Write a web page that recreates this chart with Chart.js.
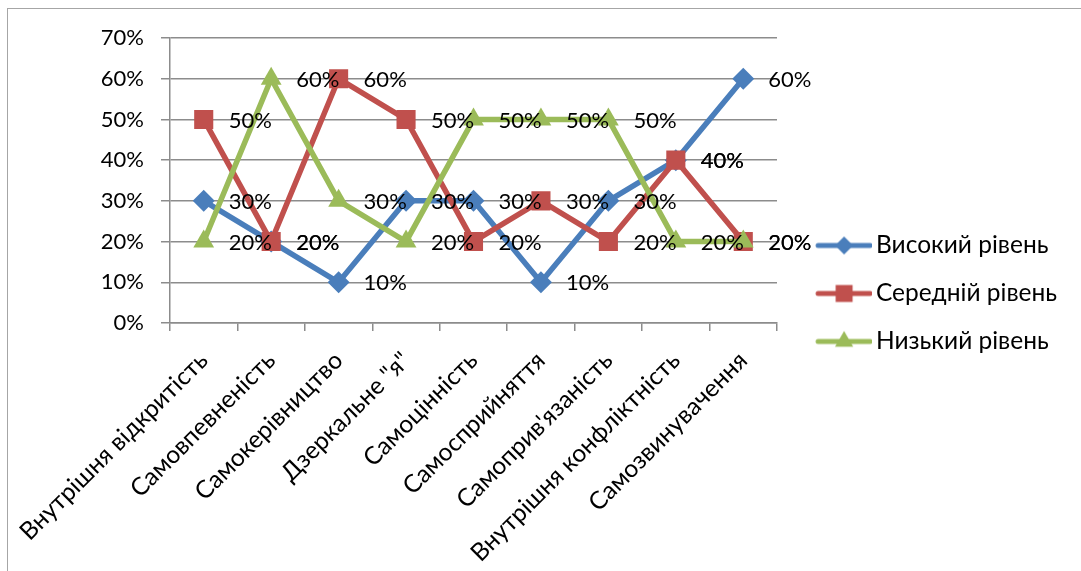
<!DOCTYPE html>
<html>
<head>
<meta charset="utf-8">
<script src="https://cdn.jsdelivr.net/npm/chart.js@4.4.1/dist/chart.umd.min.js"></script>
<style>
  html, body { margin: 0; padding: 0; background: #fff; overflow: hidden; }
  #frame {
    position: absolute; left: 7px; top: 8px; width: 1200px; height: 700px;
    border: 1.5px solid #a6a6a6; box-sizing: border-box;
  }
  #wrap { position: absolute; left: 0; top: 0; width: 1081px; height: 571px; }
</style>
</head>
<body>
<div id="frame"></div>
<div id="wrap"><canvas id="chart"></canvas></div>
<script>
// ── Data ──────────────────────────────────────────────────────
const categories = [
  'Внутрішня відкритість', 'Самовпевненість', 'Самокерівництво',
  'Дзеркальне "я"', 'Самоцінність', 'Самосприйняття',
  'Самоприв\'язаність', 'Внутрішня конфліктність', 'Самозвинувачення'
];
const seriesNames = ['Високий рівень', 'Середній рівень', 'Низький рівень'];
const highLevel   = [30, 20, 10, 30, 30, 10, 30, 40, 60];
const midLevel    = [50, 20, 60, 50, 20, 30, 20, 40, 20];
const lowLevel    = [20, 60, 30, 20, 50, 50, 50, 20, 20];
const yTicks      = [0, 10, 20, 30, 40, 50, 60, 70];

// ── Style ─────────────────────────────────────────────────────
const FONT  = "Lato, 'Open Sans', sans-serif";
const FS    = 22;      // numbers
const FS_TX = 24.5;    // words (legend, categories)
const BLUE  = '#4a7ebb';
const RED   = '#c0504d';
const GREEN = '#9bbb59';
const GRID  = '#8c8c8c';

// Legend entry: a short line with the marker in its middle
function legendMarker(color, style, radius) {
  const c = document.createElement('canvas');
  c.width = 80; c.height = 26;
  const ctx = c.getContext('2d');
  ctx.strokeStyle = color;
  ctx.lineWidth   = 5;
  ctx.lineCap     = 'round';
  ctx.beginPath();
  ctx.moveTo(26, 13);
  ctx.lineTo(78, 13);
  ctx.stroke();
  ctx.fillStyle = color;
  Chart.helpers.drawPoint(ctx, { pointStyle: style, radius: radius, borderWidth: 0, rotation: 0 }, 52, 13);
  return c;
}
const markers = [
  legendMarker(BLUE,  'rectRot',  9),
  legendMarker(RED,   'rect',     12),
  legendMarker(GREEN, 'triangle', 10.5)
];

// Value labels to the right of each point
const valueLabels = {
  id: 'valueLabels',
  afterDatasetsDraw(chart) {
    const ctx = chart.ctx;
    ctx.save();
    ctx.font = `${FS}px ${FONT}`;
    ctx.fillStyle = '#000';
    ctx.textAlign = 'left';
    ctx.textBaseline = 'middle';
    chart.data.datasets.forEach((ds, i) => {
      const meta = chart.getDatasetMeta(i);
      meta.data.forEach((pt, j) => {
        ctx.fillText(ds.data[j] + '%', pt.x + 25, pt.y + 1);
      });
    });
    ctx.restore();
  }
};

// The legend box is capped at a quarter of the canvas width and clipped to it;
// widen it to the canvas edge and pull its bottom up so it centres like the original
const legendBox = {
  id: 'legendBox',
  afterLayout(chart) {
    const lg = chart.legend;
    if (!lg) return;
    lg.right  = chart.width;
    lg.width  = lg.right - lg.left;
    lg.bottom = lg.bottom - 22;
    lg.height = lg.bottom - lg.top;
  }
};

const lineDefaults = {
  borderWidth: 5.5,
  tension: 0,
  fill: false,
  borderJoinStyle: 'round',
  borderCapStyle: 'round',
  pointBorderWidth: 0,
  pointHoverRadius: 0
};

new Chart(document.getElementById('chart').getContext('2d'), {
  type: 'line',
  data: {
    labels: categories,
    datasets: [
      { ...lineDefaults, label: seriesNames[0], data: highLevel,
        borderColor: BLUE, backgroundColor: BLUE, pointStyle: 'rectRot', pointRadius: 11, order: 2 },
      { ...lineDefaults, label: seriesNames[1], data: midLevel,
        borderColor: RED, backgroundColor: RED, pointStyle: 'rect', pointRadius: 13.5, order: 1 },
      { ...lineDefaults, label: seriesNames[2], data: lowLevel,
        borderColor: GREEN, backgroundColor: GREEN, pointStyle: 'triangle', pointRadius: 12, order: 0 }
    ]
  },
  options: {
    responsive: true,
    maintainAspectRatio: false,
    animation: false,
    events: [],
    layout: { padding: { left: 0, top: 38, right: 45, bottom: 0 } },
    plugins: {
      tooltip: { enabled: false },
      legend: {
        position: 'right',
        align: 'center',
        labels: {
          color: '#000',
          font: { family: FONT, size: FS_TX },
          padding: 48 - FS_TX,
          usePointStyle: true,
          pointStyleWidth: 63.25,
          sort: (a, b) => a.datasetIndex - b.datasetIndex,
          generateLabels(chart) {
            const items = Chart.defaults.plugins.legend.labels.generateLabels(chart);
            items.forEach(it => { it.pointStyle = markers[it.datasetIndex]; });
            return items;
          }
        }
      }
    },
    scales: {
      x: {
        offset: true,
        afterFit(scale) {
          scale.height = 571 - 323;
          // long rotated labels may hang past the y axis; keep the plot where it is
          scale.paddingLeft = 0;
          scale.paddingRight = 0;
        },
        grid: { offset: true, drawOnChartArea: false, drawTicks: true, tickLength: 8, color: GRID, lineWidth: 1.5 },
        border: { display: true, color: GRID, width: 1.5 },
        ticks: {
          autoSkip: false, minRotation: 45, maxRotation: 45, padding: 15,
          color: '#000', font: { family: FONT, size: FS_TX }
        }
      },
      y: {
        min: yTicks[0],
        max: yTicks[yTicks.length - 1],
        afterFit(scale) { scale.width = 170; },
        afterBuildTicks(scale) { scale.ticks = yTicks.map(v => ({ value: v })); },
        grid: { color: GRID, lineWidth: 1.5, tickLength: 9 },
        border: { display: true, color: GRID, width: 1.5 },
        ticks: {
          padding: 17,
          color: '#000',
          font: { family: FONT, size: FS },
          callback: v => v + '%'
        }
      }
    }
  },
  plugins: [valueLabels, legendBox]
});
</script>
</body>
</html>
